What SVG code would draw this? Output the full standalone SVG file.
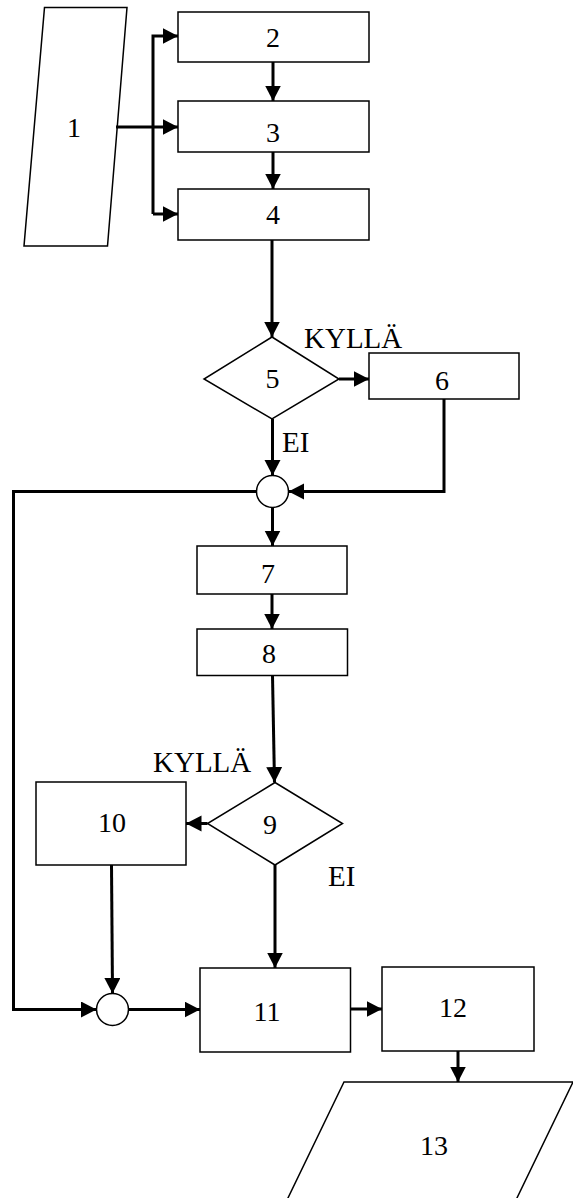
<svg xmlns="http://www.w3.org/2000/svg" width="573" height="1198" viewBox="0 0 573 1198">
<style>
.shape{fill:#fff;stroke:#000;stroke-width:1.5}
.conn{fill:none;stroke:#000;stroke-width:3}
.t{font-family:"Liberation Serif","Times New Roman",serif;font-size:28px;fill:#000;text-anchor:middle}
.lbl{font-family:"Liberation Serif","Times New Roman",serif;font-size:29px;fill:#000}
</style>
<defs>
<marker id="ah" markerUnits="userSpaceOnUse" markerWidth="17" markerHeight="17" refX="15.5" refY="8" orient="auto">
<path d="M0,0 L15.5,8 L0,16 z" fill="#000"/>
</marker>
</defs>
<rect width="573" height="1198" fill="#fff"/>
<g id="n1"><polygon class="shape" points="44.5,7.5 127,7.5 107.5,246 24,246"/><text class="t" x="74" y="137">1</text></g>
<g id="n2"><rect class="shape" x="178" y="12" width="191" height="50"/><text class="t" x="273" y="47">2</text></g>
<g id="n3"><rect class="shape" x="178" y="101" width="191" height="51"/><text class="t" x="273" y="142">3</text></g>
<g id="n4"><rect class="shape" x="178" y="189" width="191" height="51"/><text class="t" x="273" y="224">4</text></g>
<g id="n5"><polygon class="shape" points="272,337 339,379 272,419 204,379"/><text class="t" x="272.5" y="388">5</text></g>
<g id="n6"><rect class="shape" x="369" y="353" width="150" height="46"/><text class="t" x="442" y="390">6</text></g>
<g id="j1"><circle class="shape" cx="272.5" cy="491.5" r="16"/></g>
<g id="n7"><rect class="shape" x="197" y="546" width="150" height="48"/><text class="t" x="268" y="583">7</text></g>
<g id="n8"><rect class="shape" x="197" y="629" width="150.5" height="46.5"/><text class="t" x="269" y="663">8</text></g>
<g id="n9"><polygon class="shape" points="275,782.5 342.5,823.5 275,865 207.5,823.5"/><text class="t" x="270" y="834">9</text></g>
<g id="n10"><rect class="shape" x="36" y="782" width="150" height="83"/><text class="t" x="112" y="832">10</text></g>
<g id="j2"><circle class="shape" cx="112.5" cy="1009.5" r="16"/></g>
<g id="n11"><rect class="shape" x="200" y="968" width="150.5" height="84"/><text class="t" x="267" y="1021">11</text></g>
<g id="n12"><rect class="shape" x="382" y="967" width="152" height="84"/><text class="t" x="453" y="1017">12</text></g>
<g id="n13"><polygon class="shape" points="344,1082 573,1082 501.5,1230 272.5,1230"/><text class="t" x="434" y="1155">13</text></g>
<g id="labels">
<text class="lbl" x="304" y="348">KYLLÄ</text>
<text class="lbl" x="282" y="452">EI</text>
<text class="lbl" x="153" y="772">KYLLÄ</text>
<text class="lbl" x="328" y="886">EI</text>
</g>
<g id="connectors">
<path class="conn" d="M116,127 H178" marker-end="url(#ah)"/>
<path class="conn" d="M153,214 V36 H178" marker-end="url(#ah)"/>
<path class="conn" d="M153,214 H178" marker-end="url(#ah)"/>
<path class="conn" d="M273,62 V101" marker-end="url(#ah)"/>
<path class="conn" d="M273,152 V189" marker-end="url(#ah)"/>
<path class="conn" d="M272,240 V337" marker-end="url(#ah)"/>
<path class="conn" d="M339,379 H369" marker-end="url(#ah)"/>
<path class="conn" d="M272.5,419 V475.5" marker-end="url(#ah)"/>
<path class="conn" d="M444,399 V491.5 H288.5" marker-end="url(#ah)"/>
<path class="conn" d="M272.5,507.5 V546" marker-end="url(#ah)"/>
<path class="conn" d="M272,594 V629" marker-end="url(#ah)"/>
<path class="conn" d="M272.5,675.5 L274.5,782.5" marker-end="url(#ah)"/>
<path class="conn" d="M207.5,823.5 H186" marker-end="url(#ah)"/>
<path class="conn" d="M275,865 V968" marker-end="url(#ah)"/>
<path class="conn" d="M111.5,865 L112.5,993.5" marker-end="url(#ah)"/>
<path class="conn" d="M256.5,491.5 H13.5 V1009.5 H96.5" marker-end="url(#ah)"/>
<path class="conn" d="M128.5,1009.5 H200" marker-end="url(#ah)"/>
<path class="conn" d="M350.5,1009 H382" marker-end="url(#ah)"/>
<path class="conn" d="M458,1051 V1082" marker-end="url(#ah)"/>
</g>
</svg>
